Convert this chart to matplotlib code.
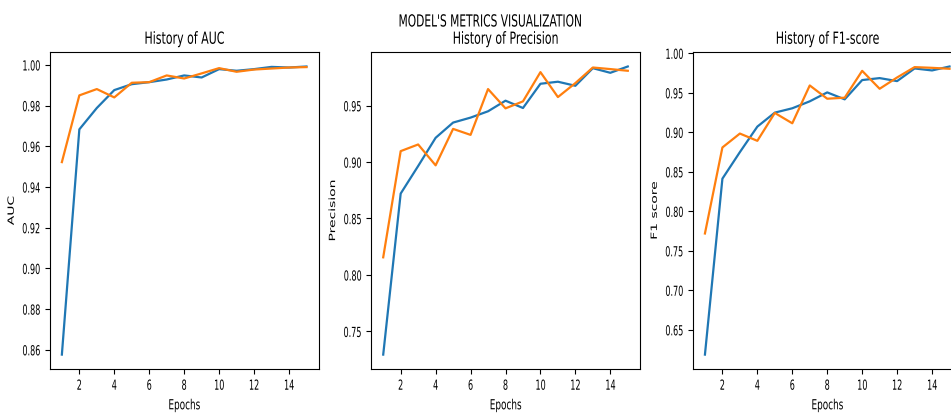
import numpy as np
import matplotlib
matplotlib.use("Agg")
import matplotlib.pyplot as plt
from matplotlib.patheffects import AbstractPathEffect
from matplotlib.ticker import MultipleLocator
from matplotlib.transforms import Affine2D

epochs = list(range(1, 16))

auc_train = [0.8576, 0.9683, 0.9788, 0.9876, 0.9905, 0.9915, 0.9928, 0.9948,
             0.9938, 0.9979, 0.9971, 0.9979, 0.9990, 0.9987, 0.9992]
auc_val = [0.9522, 0.9850, 0.9881, 0.9840, 0.9912, 0.9915, 0.9948, 0.9933,
           0.9958, 0.9984, 0.9966, 0.9977, 0.9982, 0.9987, 0.9989]

precision_train = [0.7294, 0.8721, 0.8965, 0.9215, 0.9350, 0.9394, 0.9450, 0.9544,
                   0.9479, 0.9694, 0.9712, 0.9676, 0.9832, 0.9791, 0.9847]
precision_val = [0.8156, 0.9097, 0.9156, 0.8971, 0.9294, 0.9241, 0.9647, 0.9476,
                 0.9538, 0.9797, 0.9576, 0.9700, 0.9838, 0.9824, 0.9809]

f1_train = [0.6185, 0.8412, 0.8748, 0.9071, 0.9248, 0.9303, 0.9391, 0.9504,
            0.9416, 0.9660, 0.9685, 0.9647, 0.9807, 0.9782, 0.9832]
f1_val = [0.7718, 0.8807, 0.8983, 0.8891, 0.9244, 0.9113, 0.9592, 0.9424,
          0.9437, 0.9777, 0.9550, 0.9693, 0.9824, 0.9815, 0.9803]

panels = [
    ("History of AUC", "AUC", auc_train, auc_val),
    ("History of Precision", "Precision", precision_train, precision_val),
    ("History of F1-score", "F1 score", f1_train, f1_val),
]


class Squeeze(AbstractPathEffect):
    """Rescale the glyphs of a text (sx along the line, sy across it)."""

    def __init__(self, sx=1.0, sy=1.0, anchor="center"):
        super().__init__()
        self.sx = sx
        self.sy = sy
        self.anchor = anchor

    def draw_path(self, renderer, gc, tpath, affine, rgbFace=None):
        ext = tpath.get_extents()
        if self.anchor == "right":
            x0 = ext.x1
        elif self.anchor == "left":
            x0 = ext.x0
        else:
            x0 = (ext.x0 + ext.x1) / 2
        y0 = (ext.y0 + ext.y1) / 2
        squeeze = (Affine2D().translate(-x0, -y0)
                   .scale(self.sx, self.sy).translate(x0, y0))
        renderer.draw_path(gc, tpath, squeeze + affine, rgbFace)


# y tick labels: small font stretched back up, i.e. narrow 10pt digits
ytick_narrow = 0.58

fig = plt.figure(figsize=(9.51, 4.17), dpi=100)
lefts = [0.0522, 0.3901, 0.7284]
axes = []
for left, (title, ylabel, train, val) in zip(lefts, panels):
    ax = fig.add_axes([left, 0.1151, 0.2829, 0.760])
    ax.plot(epochs, train, color="#1f77b4", lw=1.6)
    ax.plot(epochs, val, color="#ff7f0e", lw=1.6)
    ax.xaxis.set_major_locator(MultipleLocator(2))
    ax.tick_params(axis="y", labelsize=10 * ytick_narrow)
    ax.set_title(title, fontsize=12, path_effects=[Squeeze(sx=0.66)])
    ax.set_xlabel("Epochs", fontsize=10, path_effects=[Squeeze(sx=0.64)])
    # rotated label: squeeze across the line so it narrows on screen
    ax.set_ylabel(ylabel, fontsize=10, path_effects=[Squeeze(sy=0.62)])
    ax.yaxis.set_label_coords(-0.115, 0.5)
    axes.append(ax)

fig.suptitle("MODEL'S METRICS VISUALIZATION", x=0.515, y=0.970, fontsize=12,
             path_effects=[Squeeze(sx=0.64)])

# ticks are only final after a draw, then set the label effects
fig.canvas.draw()
for ax in axes:
    for lab in ax.get_xticklabels():
        lab.set_path_effects([Squeeze(sx=0.58)])
    for lab in ax.get_yticklabels():
        lab.set_path_effects([Squeeze(sy=1 / ytick_narrow, anchor="right")])

fig.savefig("out.png", dpi=100)
